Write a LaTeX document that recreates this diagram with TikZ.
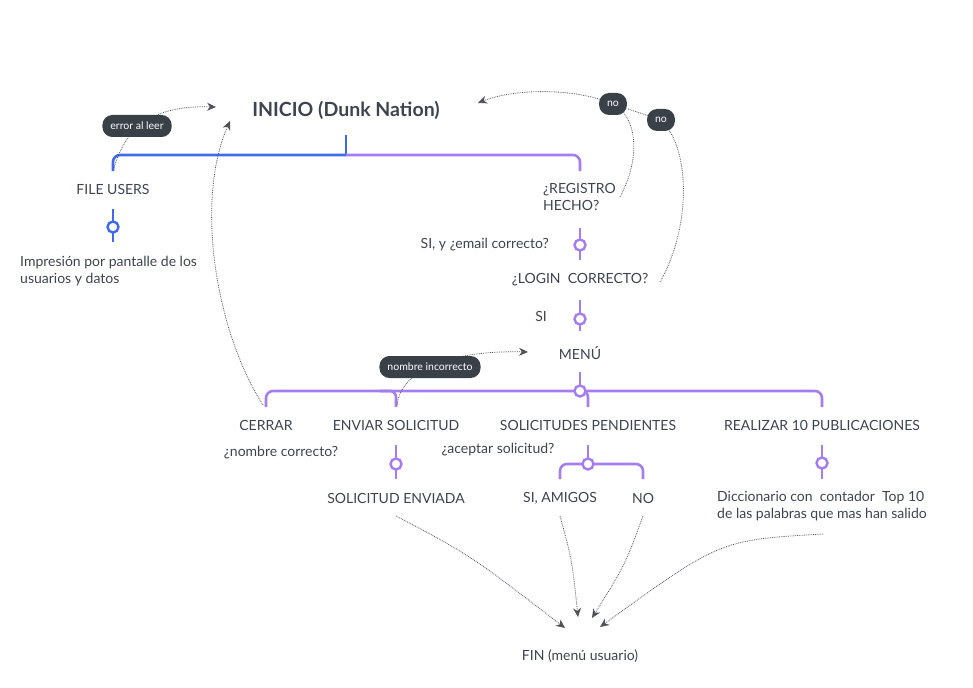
\documentclass[tikz,border=0pt]{standalone}
\usepackage{fontspec}
\setmainfont{Lato}
\usetikzlibrary{arrows.meta}
\definecolor{tblue}{HTML}{3F6BEA}
\definecolor{tpurp}{HTML}{A57DF0}
\definecolor{tdark}{HTML}{3A4048}
\definecolor{ttext}{HTML}{3C4450}
\begin{document}
\begin{tikzpicture}[x=1pt,y=-1pt,
 txt/.style={font=\fontsize{14}{17}\selectfont, text=ttext, inner sep=0pt},
 bl/.style={draw=tblue, line width=2.6pt},
 pl/.style={draw=tpurp, line width=2.6pt},
 knotb/.style={circle, draw=tblue, fill=white, line width=2.4pt, minimum size=11pt, inner sep=0pt},
 knotp/.style={circle, draw=tpurp, fill=white, line width=2.4pt, minimum size=11pt, inner sep=0pt},
 tag/.style={rounded corners=10pt, fill=tdark, text=white, font=\fontsize{10.5}{12}\selectfont, minimum height=22pt, inner xsep=8pt, inner ysep=0pt},
 link/.style={draw=tdark!90, densely dotted, line width=0.8pt, -{Stealth[length=9pt,width=8pt]}},
 linkn/.style={draw=tdark!90, densely dotted, line width=0.8pt}
]
\useasboundingbox (0,0) rectangle (973,687);

% text nodes
\node[txt, font=\bfseries\fontsize{19.5}{22}\selectfont] (inicio) at (346,110) {INICIO (Dunk Nation)};
\node[txt] (fileusers) at (113,189) {FILE USERS};
\node[txt, align=left, anchor=west] (impresion) at (20,271) {Impresión por pantalle de los\\usuarios y datos};
\node[txt, align=left, anchor=west] (registro) at (543,197) {¿REGISTRO\\HECHO?};
\node[txt, anchor=east] (email) at (549,245) {SI, y ¿email correcto?};
\node[txt] (login) at (580,280) {¿LOGIN\ \ CORRECTO?};
\node[txt] (si) at (541,316) {SI};
\node[txt] (menu) at (580,353) {MENÚ};
\node[txt] (cerrar) at (266,425) {CERRAR};
\node[txt] (enviar) at (396,425) {ENVIAR SOLICITUD};
\node[txt] (pend) at (588,425) {SOLICITUDES PENDIENTES};
\node[txt] (realizar) at (822,425) {REALIZAR 10 PUBLICACIONES};
\node[txt] (nombrec) at (281,453) {¿nombre correcto?};
\node[txt] (aceptar) at (498,450) {¿aceptar solicitud?};
\node[txt] (enviada) at (396,498) {SOLICITUD ENVIADA};
\node[txt] (amigos) at (560,498) {SI, AMIGOS};
\node[txt] (no) at (643,498) {NO};
\node[txt, align=left] (dicc) at (822,506) {Diccionario con\ \ contador\ \ Top 10\\de las palabras que mas han salido};
\node[txt] (fin) at (580,656) {FIN (menú usuario)};

% coordinates for tree
\coordinate (topj) at (346,155);
\coordinate (menuj) at (580,391);

% top tree
\draw[bl] (inicio.south |- 0,135) -- (topj);
\draw[bl, rounded corners=7pt] (topj) -| (113,171);
\draw[pl, rounded corners=7pt] (topj) -| (580,171);
% file users knot
\draw[bl] (113,209) -- (113,242);
\node[knotb] (k1) at (113,227) {};
% registro knot
\draw[pl] (580,228) -- (580,260);
\node[knotp] (k2) at (580,245) {};
% login knot
\draw[pl] (580,300) -- (580,331);
\node[knotp] (k3) at (580,319) {};
% menu tree
\draw[pl] (580,372) -- (menuj);
\draw[pl, rounded corners=7pt] (menuj) -| (266,407);
\draw[pl, rounded corners=7pt] (menuj) -| (822,407);
\draw[pl, rounded corners=6pt] (396,407) |- (380,391);
\draw[pl, rounded corners=6pt] (588,407) |- (575,391);
\node[knotp] (k4) at (menuj) {};
% enviar knot
\draw[pl] (396,445) -- (396,479);
\node[knotp] (k5) at (396,464) {};
% pendientes fork
\draw[pl] (588,445) -- (588,464);
\draw[pl, rounded corners=7pt] (560,479) |- (643,464) -- (643,479);
\node[knotp] (k6) at (588,464) {};
% realizar knot
\draw[pl] (822,445) -- (822,479);
\node[knotp] (k7) at (822,463) {};

% dotted links
\coordinate (e1) at (216,107);
\draw[link] (114,168) .. controls (125,130) and (150,105) .. (e1);
\coordinate (e2) at (230,121);
\draw[link] (263,405) .. controls (215,330) and (195,200) .. (e2);
\coordinate (e3) at (528,352);
\draw[link] (397,405) .. controls (400,375) and (440,350) .. (e3);
\coordinate (e4) at (478,103);
\draw[link] (620,197) .. controls (645,150) and (632,112) .. (613,104) .. controls (570,86) and (510,90) .. (e4);
\node[tag] (no1) at (613,104) {no};
\draw[linkn] (660,282) .. controls (690,230) and (692,150) .. (661,120) -- (no1);
\node[tag] (no2) at (661,120) {no};
\node[tag] (err) at (137,126) {error al leer};
\node[tag] (nomi) at (430,367) {nombre incorrecto};

% links to FIN
\coordinate (f1) at (565,628);
\coordinate (f2) at (578,617);
\coordinate (f3) at (592,618);
\coordinate (f4) at (600,627);
\draw[link] (enviada.south |- 0,516) .. controls (470,555) .. (f1);
\draw[link] (amigos.south |- 0,516) .. controls (572,560) .. (f2);
\draw[link] (no.south |- 0,516) .. controls (625,565) .. (f3);
\draw[link] (823,534) .. controls (720,540) .. (f4);
\end{tikzpicture}
\end{document}
